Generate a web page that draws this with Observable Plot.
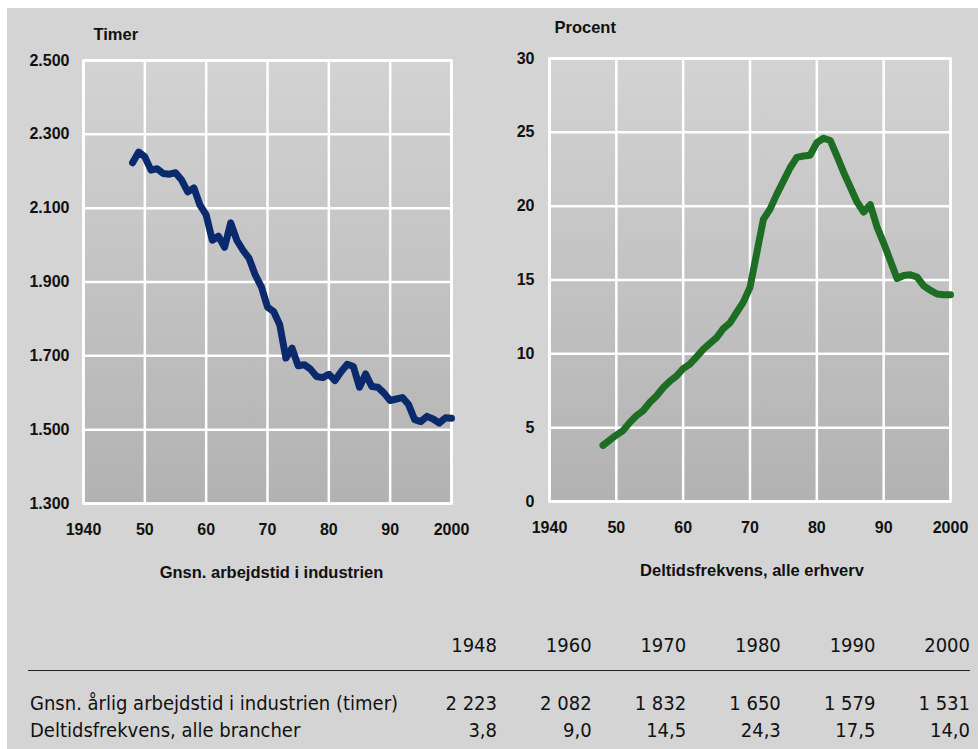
<!DOCTYPE html>
<html>
<head>
<meta charset="utf-8">
<script src="https://cdn.jsdelivr.net/npm/d3@7"></script>
<script src="https://cdn.jsdelivr.net/npm/@observablehq/plot@0.6"></script>
<style>
  html, body { margin: 0; padding: 0; background: #ffffff; }
  #page { position: relative; width: 978px; height: 749px; overflow: hidden; }
  #bg { position: absolute; left: 7px; top: 8px; width: 971px; height: 741px; background: #d4d4d4; }
  .chart { position: absolute; top: 0; }
  .tcell { position: absolute; font-family: "Liberation Sans Narrow", "DejaVu Sans Condensed", "Liberation Sans", sans-serif; font-size: 20px; color: #111; white-space: nowrap; line-height: 1; }
  #rule { position: absolute; left: 28px; top: 670px; width: 942px; height: 1px; background: #222; }
</style>
</head>
<body>
<div id="page">
  <div id="bg"></div>
  <div id="left" class="chart" style="left:0px"></div>
  <div id="right" class="chart" style="left:490px"></div>
  <div id="rule"></div>
  <div id="table"></div>
</div>
<script>
// ---------- data ----------
const hoursYears = [1948,1949,1950,1951,1952,1953,1954,1955,1956,1957,1958,1959,1960,1961,1962,1963,1964,1965,1966,1967,1968,1969,1970,1971,1972,1973,1974,1975,1976,1977,1978,1979,1980,1981,1982,1983,1984,1985,1986,1987,1988,1989,1990,1991,1992,1993,1994,1995,1996,1997,1998,1999,2000];
const hoursValues = [2223,2252,2239,2203,2207,2194,2192,2196,2176,2144,2155,2108,2082,2013,2024,1994,2060,2013,1986,1964,1919,1887,1832,1820,1784,1694,1721,1673,1676,1664,1644,1641,1650,1633,1657,1677,1671,1615,1651,1617,1615,1599,1579,1583,1587,1568,1527,1522,1536,1529,1518,1532,1531];

const partYears = [1948,1950,1951,1952,1953,1954,1955,1956,1957,1958,1959,1960,1961,1962,1963,1964,1965,1966,1967,1968,1969,1970,1971,1972,1973,1974,1975,1976,1977,1978,1979,1980,1981,1982,1983,1984,1985,1986,1987,1988,1989,1990,1991,1992,1993,1994,1995,1996,1997,1998,1999,2000];
const partValues = [3.8,4.5,4.8,5.35,5.8,6.15,6.7,7.15,7.7,8.15,8.5,9.0,9.3,9.8,10.3,10.7,11.1,11.7,12.1,12.8,13.5,14.5,16.8,19.1,19.8,20.8,21.7,22.6,23.3,23.4,23.45,24.3,24.6,24.45,23.4,22.3,21.3,20.3,19.6,20.1,18.6,17.5,16.3,15.1,15.3,15.35,15.2,14.6,14.3,14.05,14.0,14.0];

const xTicks = [1940,1950,1960,1970,1980,1990,2000];
const hoursTicks = [1300,1500,1700,1900,2100,2300,2500];
const partTicks = [0,5,10,15,20,25,30];

const leftUnit = "Timer";
const rightUnit = "Procent";
const leftTitle = "Gnsn. arbejdstid i industrien";
const rightTitle = "Deltidsfrekvens, alle erhverv";

const tableYears = ["1948","1960","1970","1980","1990","2000"];
const tableRowLabels = ["Gnsn. årlig arbejdstid i industrien (timer)", "Deltidsfrekvens, alle brancher"];
const tableHours = ["2 223","2 082","1 832","1 650","1 579","1 531"];
const tablePart = ["3,8","9,0","14,5","24,3","17,5","14,0"];

// ---------- helpers ----------
const daFmt = d3.formatLocale({decimal: ",", thousands: ".", grouping: [3], currency: ["", ""]}).format(",");
const xFmt = d => (d === 1940 || d === 2000) ? String(d) : String(d % 100);
const FONT = "'Liberation Sans', Arial, sans-serif";

function addGradient(svg, id) {
  const defs = d3.select(svg).insert("defs", ":first-child");
  const g = defs.append("linearGradient").attr("id", id).attr("x1", 0).attr("y1", 0).attr("x2", 0).attr("y2", 1);
  g.append("stop").attr("offset", "0%").attr("stop-color", "#d3d3d3");
  g.append("stop").attr("offset", "100%").attr("stop-color", "#b2b2b2");
}

function makeChart(opts) {
  const data = opts.years.map((y, i) => ({year: y, value: opts.values[i]}));
  const svg = Plot.plot({
    width: opts.width,
    height: 600,
    marginLeft: opts.ml, marginRight: opts.mr, marginTop: opts.mt, marginBottom: opts.mb,
    style: {background: "transparent", fontFamily: FONT, fontSize: "16px", fontWeight: "bold", color: "#111", overflow: "visible"},
    x: {domain: [1940, 2000]},
    y: {domain: opts.domain},
    marks: [
      Plot.frame({fill: `url(#${opts.gid})`, stroke: "none"}),
      Plot.gridX(xTicks, {stroke: "#ffffff", strokeOpacity: 1, strokeWidth: 2.5}),
      Plot.gridY(opts.ticks, {stroke: "#ffffff", strokeOpacity: 1, strokeWidth: 2.5}),
      Plot.frame({stroke: "#ffffff", strokeWidth: 2.5, fill: "none"}),
      Plot.axisX(xTicks, {tickSize: 0, tickPadding: 20, tickFormat: xFmt, label: null, fontWeight: "bold", fontSize: 16}),
      Plot.axisY(opts.ticks, {tickSize: 0, tickPadding: opts.tp, tickFormat: opts.fmt, label: null, fontWeight: "bold", fontSize: 16}),
      Plot.lineY(data, {x: "year", y: "value", stroke: opts.color, strokeWidth: 7, strokeLinejoin: "round", strokeLinecap: "round"}),
      Plot.text([opts.unit], {frameAnchor: "top-left", text: d => d, dx: opts.udx, dy: opts.udy, textAnchor: "start", fontWeight: "bold", fontSize: 16.5}),
      Plot.text([opts.title], {frameAnchor: "bottom", text: d => d, dx: opts.tdx, dy: 74, fontWeight: "bold", fontSize: 16.5})
    ]
  });
  addGradient(svg, opts.gid);
  return svg;
}

document.getElementById("left").appendChild(makeChart({
  width: 489, ml: 83, mr: 38, mt: 60, mb: 97,
  domain: [1300, 2500], ticks: hoursTicks, fmt: daFmt, tp: 14,
  years: hoursYears, values: hoursValues, color: "#0b2a6e", gid: "gradL",
  unit: leftUnit, udx: 10, udy: -32, title: leftTitle, tdx: 4
}));

document.getElementById("right").appendChild(makeChart({
  width: 488, ml: 59, mr: 28, mt: 58, mb: 99,
  domain: [0, 30], ticks: partTicks, fmt: d => String(d), tp: 15,
  years: partYears, values: partValues, color: "#1d6e24", gid: "gradR",
  unit: rightUnit, udx: 5, udy: -37, title: rightTitle, tdx: 2
}));

// ---------- table ----------
const table = document.getElementById("table");
const colRight = i => 497 + i * 94.6;
function cell(text, x, y, anchorRight) {
  const d = document.createElement("div");
  d.className = "tcell";
  d.textContent = text;
  d.style.top = (y - 10) + "px";
  if (anchorRight) { d.style.right = (978 - x) + "px"; } else { d.style.left = x + "px"; }
  table.appendChild(d);
}
tableYears.forEach((t, i) => cell(t, colRight(i), 645, true));
cell(tableRowLabels[0], 30, 703, false);
cell(tableRowLabels[1], 30, 730, false);
tableHours.forEach((t, i) => cell(t, colRight(i), 703, true));
tablePart.forEach((t, i) => cell(t, colRight(i), 730, true));
</script>
</body>
</html>
